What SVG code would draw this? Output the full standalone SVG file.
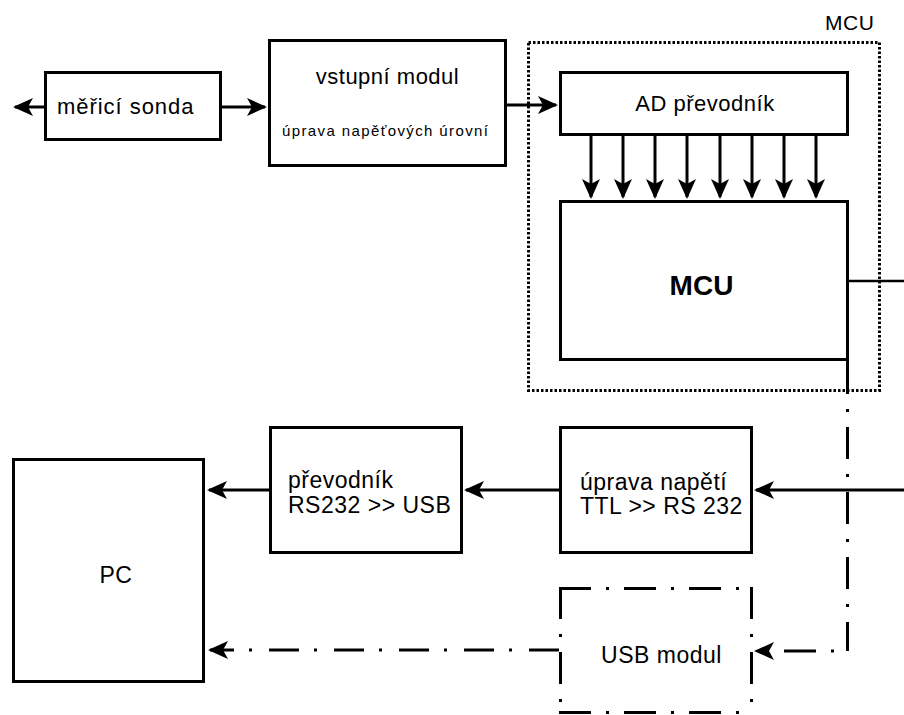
<svg xmlns="http://www.w3.org/2000/svg" width="904" height="715" viewBox="0 0 904 715">
<style>
.box{fill:#fff;stroke:#000;stroke-width:3}
.dot{fill:none;stroke:#000;stroke-width:3;stroke-dasharray:2.5 2}
.dd{fill:none;stroke:#000;stroke-width:3;stroke-dasharray:32 15 3 15}
.ln{fill:none;stroke:#000;stroke-width:3}
.t{font-family:"Liberation Sans",Arial,sans-serif;font-size:23px;fill:#000;letter-spacing:0.5px}
.s{font-family:"Liberation Sans",Arial,sans-serif;font-size:15px;fill:#000}
.b{font-family:"Liberation Sans",Arial,sans-serif;font-size:28px;font-weight:bold;fill:#000}
</style>
<defs>
<marker id="ah" viewBox="0 0 20 18" refX="18" refY="9" markerWidth="20" markerHeight="18" markerUnits="userSpaceOnUse" orient="auto">
<path d="M0,0 L20,9 L0,18 L5,9 Z" fill="#000"/>
</marker>
</defs>

<g id="mcu-group">
<rect class="dot" x="528.5" y="42.5" width="351" height="348"/>
<text class="t" x="825" y="30" style="font-size:21px">MCU</text>
</g>

<g id="sonda">
<rect class="box" x="45.5" y="72.5" width="175" height="67"/>
<text class="t" x="57" y="114" style="font-size:22px" textLength="137">měřicí sonda</text>
</g>

<g id="vstupni">
<rect class="box" x="269.5" y="40.5" width="236" height="125"/>
<text class="t" x="387.5" y="84" text-anchor="middle" style="font-size:22px">vstupní modul</text>
<text class="s" x="385" y="136" text-anchor="middle" textLength="206" lengthAdjust="spacing">úprava napěťových úrovní</text>
</g>

<g id="ad">
<rect class="box" x="560.5" y="72.5" width="287" height="62"/>
<text class="t" x="705" y="111" text-anchor="middle" style="font-size:22px">AD převodník</text>
</g>

<g id="mcu">
<rect class="box" x="560.5" y="201.5" width="287" height="158"/>
<text class="b" x="701.5" y="295" text-anchor="middle">MCU</text>
</g>

<g id="uprava">
<rect class="box" x="560.5" y="427.5" width="191" height="125"/>
<text class="t" x="580" y="490">úprava napětí</text>
<text class="t" x="580" y="514">TTL &gt;&gt; RS 232</text>
</g>

<g id="prevodnik">
<rect class="box" x="270.5" y="427.5" width="191" height="125"/>
<text class="t" x="288" y="488">převodník</text>
<text class="t" x="288" y="513">RS232 &gt;&gt; USB</text>
</g>

<g id="pc">
<rect class="box" x="13.5" y="459.5" width="190" height="222"/>
<text class="t" x="116" y="583" text-anchor="middle">PC</text>
</g>

<g id="usb">
<rect x="560.5" y="588.5" width="191" height="124" fill="#fff"/>
<line class="dd" x1="559" y1="588.5" x2="753" y2="588.5"/>
<line class="dd" x1="560.5" y1="587" x2="560.5" y2="715"/>
<line class="dd" x1="751.5" y1="587" x2="751.5" y2="715"/>
<line class="dd" x1="559" y1="712.5" x2="753" y2="712.5"/>
<text class="t" x="661.5" y="663" text-anchor="middle">USB modul</text>
</g>

<g id="connectors">
<path class="ln" d="M44,107 H15" marker-end="url(#ah)"/>
<path class="ln" d="M222,107 H265" marker-end="url(#ah)"/>
<path class="ln" d="M507,105 H556" marker-end="url(#ah)"/>
<path class="ln" d="M591,136 V197" marker-end="url(#ah)"/>
<path class="ln" d="M623,136 V197" marker-end="url(#ah)"/>
<path class="ln" d="M655,136 V197" marker-end="url(#ah)"/>
<path class="ln" d="M687,136 V197" marker-end="url(#ah)"/>
<path class="ln" d="M720,136 V197" marker-end="url(#ah)"/>
<path class="ln" d="M752,136 V197" marker-end="url(#ah)"/>
<path class="ln" d="M784,136 V197" marker-end="url(#ah)"/>
<path class="ln" d="M816,136 V197" marker-end="url(#ah)"/>
<path class="ln" style="stroke-width:2.5" d="M849,281 H904"/>
<path class="ln" d="M847.5,360 V392"/>
<path class="dd" style="stroke-dashoffset:30" d="M847.5,392 V651"/>
<path class="dd" style="stroke-dashoffset:33.5" d="M847.5,651 H756" marker-end="url(#ah)"/>
<path class="ln" d="M904,490 H756" marker-end="url(#ah)"/>
<path class="ln" d="M559,490 H466" marker-end="url(#ah)"/>
<path class="ln" d="M269,490 H209" marker-end="url(#ah)"/>
<path class="dd" style="stroke-dasharray:30 17 3 15" d="M559,650 H210" marker-end="url(#ah)"/>
</g>
</svg>
